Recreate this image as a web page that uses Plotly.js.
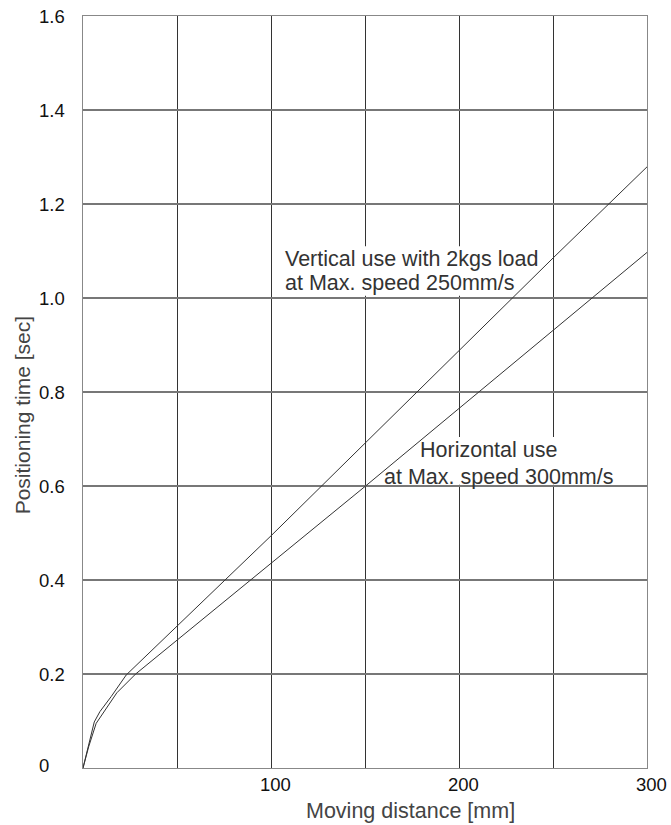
<!DOCTYPE html>
<html>
<head>
<meta charset="utf-8">
<script src="https://cdn.plot.ly/plotly-3.0.1.min.js"></script>
<style>html,body{margin:0;padding:0;background:#fff;}#chart{width:671px;height:825px;}</style>
</head>
<body>
<div id="chart"></div>
<script>
// Moving distance [mm]
var verticalX = [0, 3, 6, 9, 15, 23, 50, 100, 150, 200, 250, 300];
// Positioning time [sec] - vertical use with 2kgs load, 250mm/s
var verticalY = [0, 0.05, 0.098, 0.12, 0.152, 0.198, 0.302, 0.494, 0.691, 0.889, 1.085, 1.279];
var horizontalX = [0, 3, 7, 10.5, 18, 28, 50, 100, 150, 200, 250, 300];
// Positioning time [sec] - horizontal use, 300mm/s
var horizontalY = [0, 0.045, 0.095, 0.116, 0.16, 0.2, 0.272, 0.436, 0.599, 0.765, 0.932, 1.097];

var xTickVals = [0, 50, 100, 150, 200, 250, 300];
var xTickLabels = ['', '', '100', '', '200', '', '300'];
var yTickVals = [0, 0.2, 0.4, 0.6, 0.8, 1.0, 1.2, 1.4, 1.6];
var yTickLabels = ['0', '0.2', '0.4', '0.6', '0.8', '1.0', '1.2', '1.4', '1.6'];

var xTitle = 'Moving distance [mm]';
var yTitle = 'Positioning time [sec]';
var verticalLabel = ['Vertical use with 2kgs load', 'at Max. speed 250mm/s'];
var horizontalLabel = ['Horizontal use', 'at Max. speed 300mm/s'];

var FONT = 'Liberation Sans, Arial, Helvetica, sans-serif';

var traces = [
  {x: verticalX, y: verticalY, mode: 'lines', line: {color: '#333', width: 1}, hoverinfo: 'skip'},
  {x: horizontalX, y: horizontalY, mode: 'lines', line: {color: '#333', width: 1}, hoverinfo: 'skip'}
];

var annotations = [];
// y tick labels (left aligned)
yTickVals.forEach(function (v, i) {
  annotations.push({xref: 'paper', yref: 'y', x: -0.0816, y: v, xanchor: 'left', yanchor: 'middle',
    yshift: (i === 0 ? 3 : 0),
    text: yTickLabels[i], showarrow: false, font: {family: FONT, size: 18.5, color: '#111'}});
});
// x tick labels
xTickVals.forEach(function (v, i) {
  if (!xTickLabels[i]) return;
  annotations.push({xref: 'x', yref: 'paper', x: v, y: 0, xanchor: 'center', yanchor: 'middle',
    xshift: 4, yshift: -16,
    text: xTickLabels[i], showarrow: false, font: {family: FONT, size: 18.5, color: '#111'}});
});
// axis titles
annotations.push({xref: 'paper', yref: 'paper', x: 0.58, y: 0, xanchor: 'center', yanchor: 'middle', yshift: -43,
  text: xTitle, showarrow: false, font: {family: FONT, size: 21.5, color: '#444'}});
annotations.push({xref: 'paper', yref: 'paper', x: 0, y: 0.469, xanchor: 'center', yanchor: 'middle', xshift: -61,
  textangle: -90, text: yTitle, showarrow: false, font: {family: FONT, size: 21, color: '#444'}});
// curve labels
function label(txt, x, y) {
  annotations.push({xref: 'x', yref: 'y', x: x, y: y, xanchor: 'left', yanchor: 'middle',
    text: txt, showarrow: false, borderpad: 0,
    font: {family: FONT, size: 21.5, color: '#333'}});
}
label(verticalLabel[0], 107.0, 1.0836);
label(verticalLabel[1], 107.0, 1.032);
label(horizontalLabel[0], 178.7, 0.677);
label(horizontalLabel[1], 159.4, 0.619);

// white masks hiding gridlines behind the labels (drawn above the grid, below the curves)
var shapes = [
  {type: 'rect', xref: 'x', yref: 'y', x0: 105.5, x1: 246, y0: 1.005, y1: 1.11, fillcolor: '#fff', line: {width: 0}, layer: 'between'},
  {type: 'rect', xref: 'x', yref: 'y', x0: 158, x1: 283, y0: 0.6028, y1: 0.704, fillcolor: '#fff', line: {width: 0}, layer: 'between'}
];

var layout = {
  width: 671, height: 825,
  margin: {l: 83, r: 24, t: 16, b: 57, pad: 0},
  paper_bgcolor: '#fff', plot_bgcolor: '#fff',
  showlegend: false,
  xaxis: {range: [0, 300], tickvals: xTickVals, ticktext: xTickLabels, showgrid: true, gridcolor: '#333', gridwidth: 1,
    zeroline: false, showline: true, mirror: true, linecolor: '#888', linewidth: 1, ticks: '', showticklabels: false},
  yaxis: {range: [0, 1.6], tickvals: yTickVals, ticktext: yTickLabels, showgrid: true, gridcolor: '#777', gridwidth: 1.3,
    zeroline: false, showline: true, mirror: true, linecolor: '#888', linewidth: 1, ticks: '', showticklabels: false},
  shapes: shapes,
  annotations: annotations
};

Plotly.newPlot('chart', traces, layout, {staticPlot: true, displayModeBar: false});
</script>
</body>
</html>
